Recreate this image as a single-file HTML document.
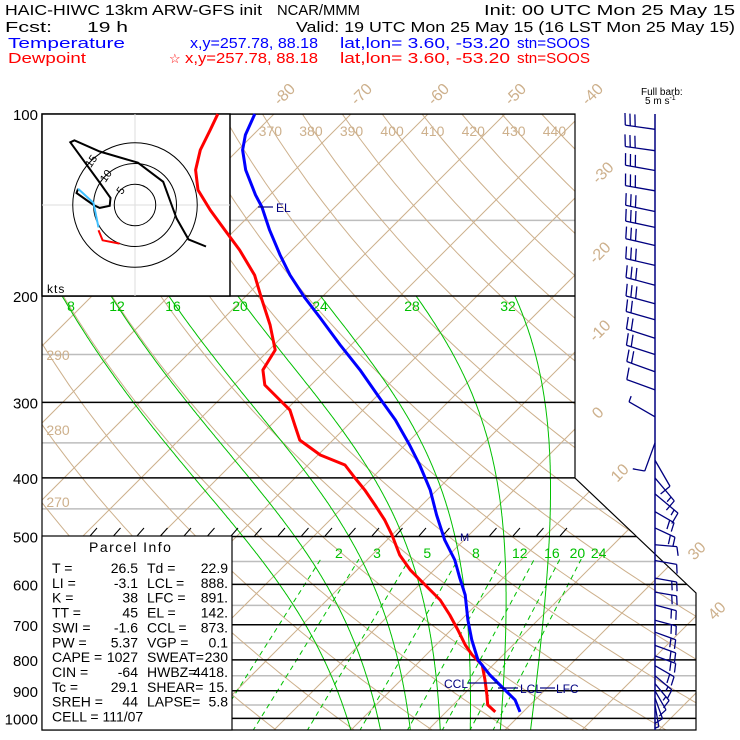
<!DOCTYPE html>
<html><head><meta charset="utf-8"><style>
html,body{margin:0;padding:0;background:#fff;}
svg{display:block;font-family:"Liberation Sans",sans-serif;}
</style></head><body>
<svg id="chart" width="740" height="740" viewBox="0 0 740 740" xmlns="http://www.w3.org/2000/svg">
<defs>
<clipPath id="frameClip"><polygon points="42,114 575,114 575,478 696,593 696,730 42,730"/></clipPath>
</defs>
<g id="header" font-size="15">
<text x="5" y="15" textLength="257" lengthAdjust="spacingAndGlyphs">HAIC-HIWC 13km ARW-GFS init</text>
<text x="277" y="15" textLength="83" lengthAdjust="spacingAndGlyphs">NCAR/MMM</text>
<text x="484" y="15" textLength="251" lengthAdjust="spacingAndGlyphs">Init: 00 UTC Mon 25 May 15</text>
<text x="5" y="32" textLength="47" lengthAdjust="spacingAndGlyphs">Fcst:</text>
<text x="87" y="32" textLength="41" lengthAdjust="spacingAndGlyphs">19 h</text>
<text x="296" y="32" textLength="439" lengthAdjust="spacingAndGlyphs">Valid: 19 UTC Mon 25 May 15 (16 LST Mon 25 May 15)</text>
<g fill="#0000ff">
<text x="8" y="48" textLength="117" lengthAdjust="spacingAndGlyphs">Temperature</text>
<text x="190" y="48" textLength="128" lengthAdjust="spacingAndGlyphs">x,y=257.78, 88.18</text>
<text x="340" y="48" textLength="170" lengthAdjust="spacingAndGlyphs">lat,lon=  3.60, -53.20</text>
<text x="517" y="48" textLength="73" lengthAdjust="spacingAndGlyphs">stn=SOOS</text>
</g>
<g fill="#ff0000">
<text x="8" y="63" textLength="78" lengthAdjust="spacingAndGlyphs">Dewpoint</text>
<text x="169" y="63" font-size="13">☆</text>
<text x="185" y="63" textLength="133" lengthAdjust="spacingAndGlyphs">x,y=257.78, 88.18</text>
<text x="340" y="63" textLength="170" lengthAdjust="spacingAndGlyphs">lat,lon=  3.60, -53.20</text>
<text x="517" y="63" textLength="73" lengthAdjust="spacingAndGlyphs">stn=SOOS</text>
</g>
<text x="641" y="95" font-size="10">Full barb:</text>
<text x="645" y="104" font-size="10">5 m s<tspan font-size="7" dy="-4">-1</tspan></text>
</g>
<g id="bg" clip-path="url(#frameClip)"></g>
<g id="fg"></g>
</svg>
<script>
// ---------- data ----------
const tempP = [100,108.3,114.7,123.8,136.1,142.5,155.6,171.1,184.7,201.5,217.5,241.1,265.1,295,320.8,352.9,380.8,418.7,460.8,506.8,546.9,585.9,624.9,687.5,741.8,800.4,847.5,897.2,931.9,975.6];
const tempT = [-82.5,-81.0,-79.4,-76.4,-71.9,-69.5,-65.5,-60.9,-57.0,-52.1,-47.5,-41.4,-35.6,-29.4,-24.5,-19.4,-15.5,-10.9,-6.8,-2.5,1.4,4.4,7.3,10.9,14.0,17.4,20.9,24.8,27.4,29.6];
const dewP = [100,106.3,114.7,123.8,133.6,144.2,155.6,167.9,184.7,203.1,223.4,245.7,265.1,280.8,297.3,308.8,327.1,346.3,366.6,380.8,400.2,418.7,443.5,469.6,497.2,536.5,568,601.5,636.8,674.4,714,756,785.3,815.8,863.7,914.4,949.8,975.6];
const dewT = [-87.3,-86.2,-84.9,-82.9,-80.0,-75.8,-71.3,-66.8,-61.6,-57.4,-53.1,-49.2,-48.2,-46.0,-42.1,-39.5,-36.9,-34.3,-29.7,-25.2,-22.2,-19.4,-16.1,-12.9,-10.0,-6.4,-3.1,0.8,4.7,7.9,10.9,13.8,16.0,18.6,20.9,23.1,24.5,26.4];
const barbP = [106,115,124,134,145,154,165,178,192,206,219,235,250,267,286,317,350,374,400,425,455,484,516,548,586,618,649,688,720,757,788,818,850,876,900,925,950];
const barbSpd = [15,17,17,17,17,15,15,15,15,15,12,12,12,10,5,3,5,7,8,8,10,10,5,7,10,10,10,10,10,10,10,10,9,8,7,6,4];
const barbDir = [278,278,280,280,282,282,283,283,285,285,286,288,288,290,290,300,200,150,140,130,120,115,95,100,100,100,105,105,110,110,110,120,130,140,150,160,170];
const hodoU = [17.1,12.9,10.0,6.8,0.7,-8.5,-14.6,-15.6,-8.5,-5.9,-6.1,-8.5,-10.0,-11.7,-14.1,-13.7];
const hodoV = [-10.0,-8.3,-3.2,5.6,10.2,12.9,15.6,15.1,5.4,1.7,-0.2,-0.7,0,1.2,2.9,3.9];
const hodoLowU = [-13.7,-10.0,-8.8];
const hodoLowV = [3.9,0.5,-5.4];
const hodoSfcU = [-8.8,-7.8,-3.7];
const hodoSfcV = [-6.1,-8.5,-9.3];
const pressureTicks = [100,200,300,400,500,600,700,800,900,1000];
const minorPressures = [150,250,350,450,550,650,750,850,950];
const isotherms = [-140,-130,-120,-110,-100,-90,-80,-70,-60,-50,-40,-30,-20,-10,0,10,20,30,40,50];
const isoLabelsTop = [-80,-70,-60,-50,-40];
const isoLabelsSide = [-30,-20,-10,0,10,30,40];
const thetas = [230,240,250,260,270,280,290,300,310,320,330,340,350,360,370,380,390,400,410,420,430,440,450,460,470];
const thetaLabelsTop = [370,380,390,400,410,420,430,440];
const thetaLabelsLeft = [290,280,270];
const thetaW = [8,12,16,20,24,28,32];
const mixRatios = [2,3,5,8,12,16,20,24];

// ---------- axes ----------
const K = 262.5;
function yP(p){ return 114 + K*Math.log(p/100); }
function xT(T,p){ return 1004 - yP(p) + 7.7*T; }
function yToP(y){ return 100*Math.exp((y-114)/K); }
const NS='http://www.w3.org/2000/svg';
const bg=document.getElementById('bg'), fg=document.getElementById('fg');
function mk(tag, attrs, parent){ const e=document.createElementNS(NS,tag); for(const k in attrs) e.setAttribute(k,attrs[k]); parent.appendChild(e); return e; }
function poly(pts){ return pts.map(q=>q[0].toFixed(1)+','+q[1].toFixed(1)).join(' '); }
const TAN='#cdb08c', GREEN='#00c000', GRAY='#bdbdbd', NAVY='#000080';

minorPressures.forEach(p=>{
  const e=mk('line',{x1:42,x2:700,y1:yP(p),y2:yP(p),stroke:GRAY,'stroke-width':1.5},bg);
  
  
});
isotherms.forEach(T=>{
  const e=mk('line',{x1:xT(T,1050),y1:yP(1050),x2:xT(T,95),y2:yP(95),stroke:TAN,'stroke-width':1},bg);
  
  
});
thetas.forEach(th=>{
  const pts=[]; for(let p=1060;p>=95;p-=10){ const T=th*Math.pow(p/1000,0.2857)-273.15; pts.push([xT(T,p),yP(p)]); }
  const e=mk('polyline',{points:poly(pts),fill:'none',stroke:TAN,'stroke-width':1},bg);
  
  
});
function es(Tc){ return 6.112*Math.exp(17.67*Tc/(Tc+243.5)); }
function dTdp(T,p){ const Tc=T-273.15; const e=es(Tc); const rs=0.622*e/(p-e); const Rd=287,cp=1005,Lv=2.5e6;
  return (Rd*T+Lv*rs)/(p*(cp+Lv*Lv*rs*0.622/(Rd*T*T))); }
thetaW.forEach(tw=>{
  let T=tw+273.15, p=1000;
  while(p<1050){ T+=dTdp(T,p)*2; p+=2; }
  const pts=[]; p=1050;
  while(p>=200){ pts.push([xT(T-273.15,p),yP(p)]); T-=dTdp(T,p)*2; p-=2; }
  const e=mk('polyline',{points:poly(pts),fill:'none',stroke:GREEN,'stroke-width':1},bg);
  
  
});
function tdFromW(w,p){ const e=w*p/(622+w); const l=Math.log(e/6.112); return 243.5*l/(17.67-l); }
mixRatios.forEach(w=>{
  const e=mk('line',{x1:xT(tdFromW(w,1050),1050),y1:yP(1050),x2:xT(tdFromW(w,545),545),y2:yP(545),stroke:GREEN,'stroke-width':1,'stroke-dasharray':'5,4'},bg);
  
  
});
pressureTicks.forEach(p=>{
  const e=mk('line',{x1:42,x2:700,y1:yP(p),y2:yP(p),stroke:'#000','stroke-width':1.5},bg);
  
  
});

const fr=mk('polygon',{points:'42,114 575,114 575,478 696,593 696,730 42,730',fill:'none',stroke:'#000','stroke-width':1.2},fg);



// hodograph
const hb=mk('rect',{x:42,y:114,width:188,height:182,fill:'#fff',stroke:'#000','stroke-width':1.5},fg);


const HX=135, HY=205, HS=4.15;
mk('line',{x1:42,x2:230,y1:HY,y2:HY,stroke:'#ddd','stroke-width':1},fg);
mk('line',{x1:HX,x2:HX,y1:114,y2:296,stroke:'#ddd','stroke-width':1},fg);
[5,10,15].forEach(r=>{
  const c=mk('circle',{cx:HX,cy:HY,r:r*HS,fill:'none',stroke:'#000','stroke-width':1},fg);
  
  
  const a=Math.PI*0.75, tx=HX+Math.cos(a)*r*HS, ty=HY-Math.sin(a)*r*HS;
  const t=mk('text',{x:tx,y:ty+4,'font-size':11,'text-anchor':'middle',transform:`rotate(-55 ${tx} ${ty})`},fg); t.textContent=r;
  
  
});
function hodoLine(U,V,color,name){
  const pts=U.map((u,i)=>[HX+u*HS,HY-V[i]*HS]);
  const e=mk('polyline',{points:poly(pts),fill:'none',stroke:color,'stroke-width':2},fg);
  
  
}
hodoLine(hodoU,hodoV,'#000','hodograph-trace');
hodoLine(hodoLowU,hodoLowV,'#40c0ff','hodograph-trace-low');
hodoLine(hodoSfcU,hodoSfcV,'#ff0000','hodograph-trace-sfc');
const kts=mk('text',{x:47,y:293,'font-size':12,'letter-spacing':'1'},fg); kts.textContent='kts';



const pb=mk('rect',{x:42,y:536,width:190,height:194,fill:'#fff',stroke:'#000','stroke-width':1.2},fg);



for(let x=90;x<=560;x+=23.5){ if(x>450&&x<480) continue; mk('line',{x1:x,y1:536,x2:x+7,y2:528,stroke:'#000','stroke-width':1},fg); }
const mm=mk('text',{x:460,y:541,'font-size':11,fill:NAVY},fg); mm.textContent='M';



function txt(x,y,s,attrs,name){ const t=mk('text',Object.assign({x:x,y:y},attrs||{}),fg); t.textContent=s;   return t; }
pressureTicks.forEach(p=>{ txt(38,yP(p)+6,String(p),{'font-size':15,'text-anchor':'end'},'pressure-label'); });
isoLabelsTop.forEach(T=>{ const x=xT(T,yToP(92))-8, y=98; txt(x,y,String(T),{'font-size':16,fill:TAN,transform:`rotate(-45 ${x} ${y})`,'text-anchor':'middle'},'isotherm-label'); });
const sidePos={'-30':[603,178],'-20':[600,258],'-10':[600,336],'0':[598,418],'10':[620,478],'30':[697,556],'40':[717,616]};
isoLabelsSide.forEach(T=>{ const q=sidePos[String(T)]; txt(q[0],q[1],String(T),{'font-size':16,fill:TAN,transform:`rotate(-45 ${q[0]} ${q[1]-5})`,'text-anchor':'middle'},'isotherm-label'); });
thetaLabelsTop.forEach(th=>{ const p=yToP(130); const T=th*Math.pow(p/1000,0.2857)-273.15; txt(xT(T,p)-2,136,String(th),{'font-size':14,fill:TAN,'text-anchor':'middle'},'theta-label'); });
const leftY={'290':355,'280':430,'270':502};
thetaLabelsLeft.forEach(th=>{ txt(58,leftY[String(th)]+5,String(th),{'font-size':14,fill:TAN,'text-anchor':'middle'},'theta-label'); });
const mwX={8:71,12:117,16:173,20:240,24:320,28:412,32:508};
thetaW.forEach(tw=>{ txt(mwX[tw],311,String(tw),{'font-size':14,fill:GREEN,'text-anchor':'middle'},'moist-adiabat-label'); });
mixRatios.forEach(w=>{ txt(xT(tdFromW(w,532),532)+14,558,String(w),{'font-size':14,fill:GREEN,'text-anchor':'middle'},'mixing-ratio-label'); });

function curve(P,T,color,name){
  const pts=P.map((p,i)=>[xT(T[i],p),yP(p)]);
  const e=mk('polyline',{points:poly(pts),fill:'none',stroke:color,'stroke-width':3,'stroke-linejoin':'round'},fg);
  
  
}
curve(dewP,dewT,'#ff0000','dewpoint-line');
curve(tempP,tempT,'#0000ff','temperature-line');

mk('line',{x1:258,x2:273,y1:207,y2:207,stroke:NAVY,'stroke-width':1.2},fg);
txt(276,212,'EL',{'font-size':12,fill:NAVY},'el-label');
mk('line',{x1:468,x2:498,y1:683,y2:683,stroke:NAVY,'stroke-width':1.2},fg);
txt(444,688,'CCL',{'font-size':12,fill:NAVY},'ccl-label');
mk('line',{x1:498,x2:518,y1:688,y2:688,stroke:NAVY,'stroke-width':1.2},fg);
txt(520,693,'LCL',{'font-size':12,fill:NAVY},'lcl-label');
mk('line',{x1:540,x2:555,y1:688,y2:688,stroke:NAVY,'stroke-width':1.2},fg);
txt(556,693,'LFC',{'font-size':12,fill:NAVY},'lfc-label');

// wind barbs
const SX=655;
const staff=mk('line',{x1:SX,x2:SX,y1:114,y2:730,stroke:NAVY,'stroke-width':1.5},fg);


barbP.forEach((p,i)=>{
  const y=yP(p), d=barbDir[i]*Math.PI/180, s=barbSpd[i];
  const vx=Math.sin(d), vy=-Math.cos(d), L=p>440?22:30, TL=p>440?9:12;
  const tx=SX+vx*L, ty=y+vy*L;
  const g=mk('g',{stroke:NAVY,'stroke-width':1.3,fill:'none'},fg);
  
  
  mk('line',{x1:SX,y1:y,x2:tx,y2:ty},g);
  const px=-vy, py=vx;
  let full=Math.floor(s/5), half=(s%5)>=2.5?1:0, k=0;
  for(let j=0;j<full;j++,k++){ const bx=tx-vx*k*5, by=ty-vy*k*5; mk('line',{x1:bx,y1:by,x2:bx+px*TL+vx*2,y2:by+py*TL+vy*2},g); }
  if(half){ const bx=tx-vx*k*5, by=ty-vy*k*5; mk('line',{x1:bx,y1:by,x2:bx+px*TL/2+vx*1,y2:by+py*TL/2+vy*1},g); }
});

// parcel info text
const info=[["Parcel Info"],
["T  =","26.5","Td =","22.9"],["LI =","-3.1","LCL =","888."],["K  =","38","LFC =","891."],["TT =","45","EL  =","142."],
["SWI =","-1.6","CCL =","873."],["PW =","5.37","VGP =","0.1"],["CAPE =","1027","SWEAT=","230"],["CIN =","-64","HWBZ=","4418."],
["Tc =","29.1","SHEAR=","15."],["SREH =","44","LAPSE=","5.8"]];
txt(89,552,'Parcel Info',{'font-size':14,'letter-spacing':'1.5'},'parcel-info-title');
const rowY0=573, dy=14.85;
info.slice(1).forEach((r,i)=>{
  const y=rowY0+i*dy;
  txt(52,y,r[0],{'font-size':14},'parcel-info-key');
  txt(138,y,r[1],{'font-size':14,'text-anchor':'end'},'parcel-info-value');
  txt(147,y,r[2],{'font-size':14},'parcel-info-key');
  txt(228,y,r[3],{'font-size':14,'text-anchor':'end'},'parcel-info-value');
});
txt(52,rowY0+10*dy,'CELL = 111/07',{'font-size':14},'parcel-info-cell');
</script>
</body></html>
